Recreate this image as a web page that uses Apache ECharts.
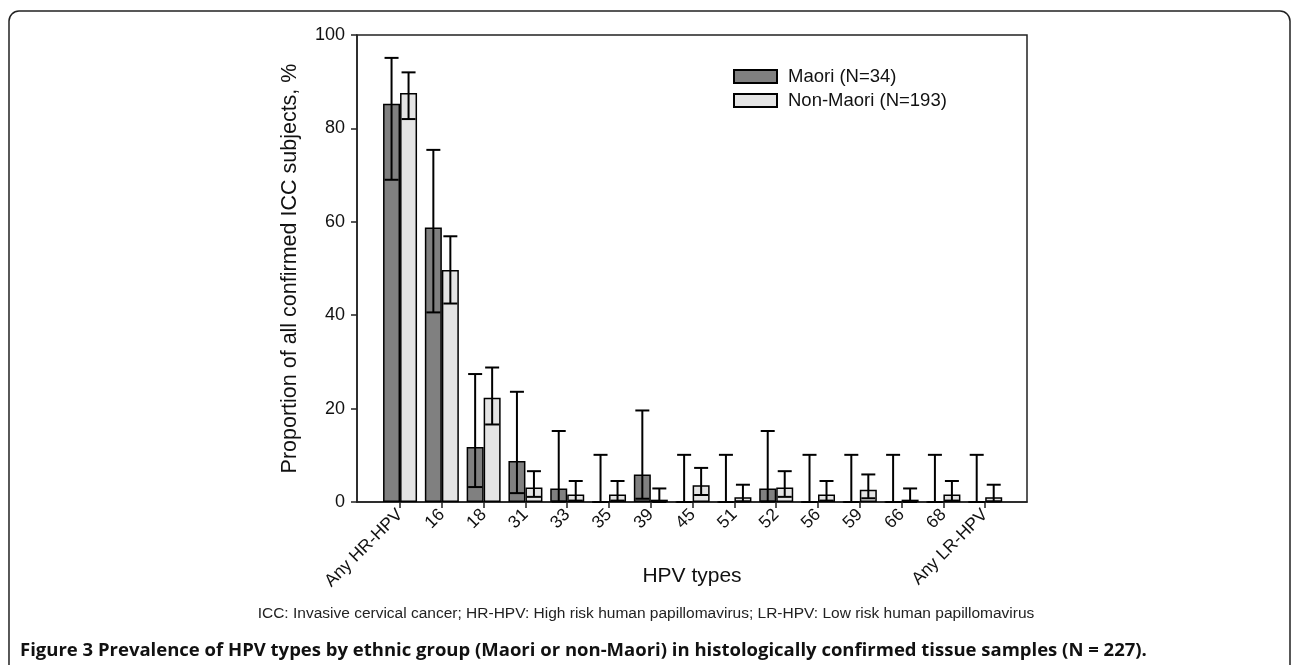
<!DOCTYPE html>
<html>
<head>
<meta charset="utf-8">
<script src="https://cdn.jsdelivr.net/npm/echarts@6/dist/echarts.min.js"></script>
<style>
  html, body { margin: 0; padding: 0; background: #fff; }
  #chart { width: 1292px; height: 665px; }
</style>
</head>
<body>
<div id="chart"></div>
<script>
// HPV 型别
var categories = ['Any HR-HPV', '16', '18', '31', '33', '35', '39', '45', '51', '52', '56', '59', '66', '68', 'Any LR-HPV'];

// Maori (N=34)
var maoriValues = [85.3, 58.8, 11.8, 8.8, 2.9, 0, 5.9, 0, 0, 2.9, 0, 0, 0, 0, 0];
var maoriLow = [69.0, 40.6, 3.2, 1.9, 0.1, 0, 0.7, 0, 0, 0.1, 0, 0, 0, 0, 0];
var maoriHigh = [95.1, 75.4, 27.4, 23.6, 15.2, 10.1, 19.6, 10.1, 10.1, 15.2, 10.1, 10.1, 10.1, 10.1, 10.1];

// Non-Maori (N=193)
var nonMaoriValues = [87.6, 49.7, 22.3, 3.1, 1.6, 1.6, 0.5, 3.6, 1.0, 3.1, 1.6, 2.6, 0.5, 1.6, 1.0];
var nonMaoriLow = [82.0, 42.5, 16.6, 1.1, 0.3, 0.3, 0.0, 1.5, 0.1, 1.1, 0.3, 0.8, 0.0, 0.3, 0.1];
var nonMaoriHigh = [92.0, 56.9, 28.8, 6.6, 4.5, 4.5, 2.9, 7.3, 3.7, 6.6, 4.5, 5.9, 2.9, 4.5, 3.7];

var yTicks = [0, 20, 40, 60, 80, 100];

var chart = echarts.init(document.getElementById('chart'));

var BAR_W = 17;
var tickPos = categories.map(function (c, i) { return i; });

function barData(vals) {
  return vals.map(function (v, i) { return [i, v]; });
}
function errData(lo, hi) {
  return lo.map(function (l, i) { return [i, l, hi[i]]; });
}

// 误差线
function errorBar(offset) {
  return function (params, api) {
    var x = api.value(0);
    var lo = api.coord([x, api.value(1)]);
    var hi = api.coord([x, api.value(2)]);
    var cx = lo[0] + offset;
    var half = 7;
    var st = {stroke: '#000', lineWidth: 2};
    return {
      type: 'group',
      children: [
        {type: 'line', shape: {x1: cx, y1: lo[1], x2: cx, y2: hi[1]}, style: st},
        {type: 'line', shape: {x1: cx - half, y1: hi[1], x2: cx + half, y2: hi[1]}, style: st},
        {type: 'line', shape: {x1: cx - half, y1: lo[1], x2: cx + half, y2: lo[1]}, style: st}
      ]
    };
  };
}

var font = 'Liberation Sans, Arial, sans-serif';

var option = {
  animation: false,
  textStyle: {fontFamily: font},
  grid: {
    left: 357,
    top: 35,
    right: 265,
    bottom: 163,
    show: true,
    borderColor: '#222',
    borderWidth: 1.5,
    backgroundColor: 'transparent'
  },
  legend: {
    orient: 'vertical',
    left: 733,
    top: 67,
    padding: 0,
    itemWidth: 43,
    itemHeight: 13,
    itemGap: 5,
    icon: 'rect',
    data: ['Maori (N=34)', 'Non-Maori (N=193)'],
    textStyle: {fontFamily: font, fontSize: 18.5, color: '#111', padding: [0, 0, 0, 6]}
  },
  xAxis: {
    type: 'value',
    min: -1.03,
    max: 15,
    name: 'HPV types',
    nameLocation: 'middle',
    nameGap: 64,
    nameMoveOverlap: false,
    nameTextStyle: {fontFamily: font, fontSize: 21, color: '#111'},
    splitLine: {show: false},
    axisLine: {show: true, onZero: false, lineStyle: {color: '#222', width: 1.5}},
    axisTick: {show: true, inside: false, length: 6, customValues: tickPos, lineStyle: {color: '#222', width: 1.5}},
    axisLabel: {
      customValues: tickPos,
      rotate: 45,
      margin: 10,
      fontFamily: font,
      fontSize: 17.5,
      color: '#111',
      formatter: function (v) { return categories[Math.round(v)]; }
    }
  },
  yAxis: {
    type: 'value',
    min: 0,
    max: 100,
    interval: 20,
    name: 'Proportion of all confirmed ICC subjects, %',
    nameLocation: 'middle',
    nameGap: 56,
    nameMoveOverlap: false,
    nameTextStyle: {fontFamily: font, fontSize: 21.5, color: '#111'},
    splitLine: {show: false},
    axisLine: {show: true, onZero: false, lineStyle: {color: '#222', width: 1.5}},
    axisTick: {show: true, length: 6, lineStyle: {color: '#222', width: 1.5}},
    axisLabel: {
      margin: 12,
      fontFamily: font,
      fontSize: 18,
      color: '#111',
      customValues: yTicks
    }
  },
  series: [
    {
      name: 'Maori (N=34)',
      type: 'bar',
      barWidth: BAR_W,
      barGap: '0%',
      data: barData(maoriValues),
      itemStyle: {color: '#808080', borderColor: '#000', borderWidth: 1.5}
    },
    {
      name: 'Non-Maori (N=193)',
      type: 'bar',
      barWidth: BAR_W,
      barGap: '0%',
      data: barData(nonMaoriValues),
      itemStyle: {color: '#e4e4e4', borderColor: '#000', borderWidth: 1.5}
    },
    {
      type: 'custom',
      name: 'maoriErr',
      renderItem: errorBar(-BAR_W / 2),
      data: errData(maoriLow, maoriHigh),
      encode: {x: 0, y: [1, 2]},
      z: 5,
      silent: true
    },
    {
      type: 'custom',
      name: 'nonMaoriErr',
      renderItem: errorBar(BAR_W / 2),
      data: errData(nonMaoriLow, nonMaoriHigh),
      encode: {x: 0, y: [1, 2]},
      z: 5,
      silent: true
    }
  ],
  graphic: [
    {
      type: 'rect',
      shape: {x: 9, y: 11, width: 1281, height: 700, r: 10},
      style: {fill: 'none', stroke: '#222', lineWidth: 1.5},
      silent: true
    },
    {
      type: 'text',
      left: 'center',
      top: 606,
      style: {
        text: 'ICC: Invasive cervical cancer; HR-HPV: High risk human papillomavirus; LR-HPV: Low risk human papillomavirus',
        font: '15.5px "Liberation Sans", sans-serif',
        fill: '#222'
      }
    },
    {
      type: 'text',
      left: 20,
      top: 641,
      style: {
        text: 'Figure 3 Prevalence of HPV types by ethnic group (Maori or non-Maori) in histologically confirmed tissue samples (N = 227).',
        font: 'bold 18.5px "Open Sans", sans-serif',
        fill: '#111'
      }
    }
  ]
};

chart.setOption(option);
</script>
</body>
</html>
